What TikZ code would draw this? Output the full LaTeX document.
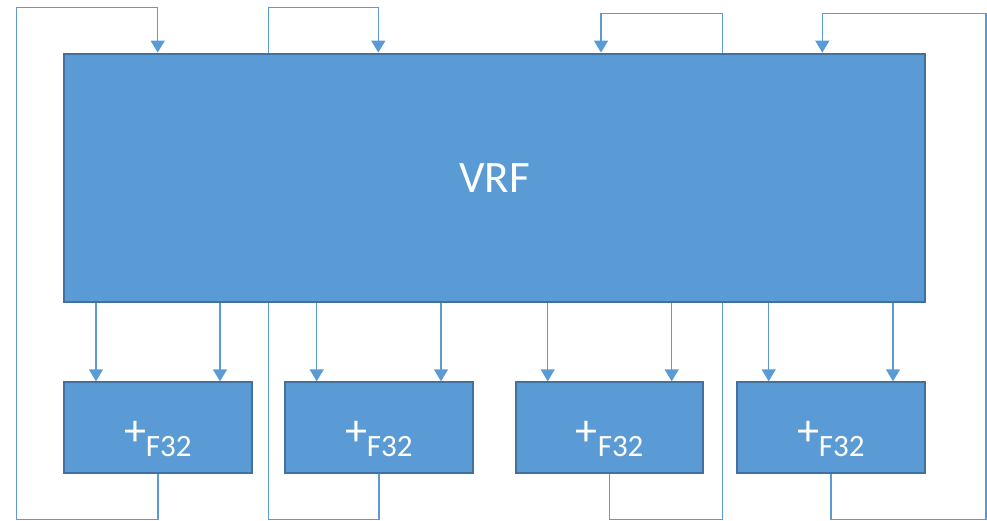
\documentclass[tikz,border=0pt]{standalone}
\usepackage{fontspec}
\setmainfont{Carlito}
\usetikzlibrary{arrows.meta}
\pgfdeclarelayer{background}
\pgfsetlayers{background,main}
\definecolor{boxfill}{HTML}{5B9BD5}
\definecolor{boxedge}{HTML}{41719C}
\definecolor{wire}{HTML}{5B9BD5}
\tikzset{
  blockbox/.style={draw=boxedge, line width=2pt, fill=boxfill, inner sep=0pt, text=white},
  wireline/.style={draw=wire, line width=1.5pt},
  wirearrow/.style={wireline, -{Triangle[width=14pt,length=12pt]}}
}
\newcommand{\addlabel}{\raisebox{-18pt}[0pt][0pt]{{\fontsize{44}{44}\selectfont +}\raisebox{-10.5pt}{\fontsize{31}{31}\selectfont F32}}}
\begin{document}
\begin{tikzpicture}[x=1pt,y=1pt]
\useasboundingbox (0,0) rectangle (987,-521);
% main blocks
\node[blockbox, minimum width=861pt, minimum height=248pt] (vrf) at (494.5,-177.6)
  {\fontsize{45}{45}\selectfont VRF};
\node[blockbox, minimum width=187.5pt, minimum height=90.4pt] (b1) at (157.85,-427.5) {\addlabel};
\node[blockbox, minimum width=187.5pt, minimum height=90.4pt] (b2) at (378.85,-427.5) {\addlabel};
\node[blockbox, minimum width=187.5pt, minimum height=90.4pt] (b3) at (609.65,-427.5) {\addlabel};
\node[blockbox, minimum width=187.5pt, minimum height=90.4pt] (b4) at (830.85,-427.5) {\addlabel};
% x positions of the vertical connectors
\coordinate (a1) at (96,0);
\coordinate (a2) at (220,0);
\coordinate (a3) at (316.7,0);
\coordinate (a4) at (441,0);
\coordinate (a5) at (547.7,0);
\coordinate (a6) at (671.7,0);
\coordinate (a7) at (768.7,0);
\coordinate (a8) at (893,0);
% feedback corner points
\coordinate (l1a) at (157.85,-519.5);
\coordinate (l1b) at (16.7,-519.5);
\coordinate (l1c) at (16.7,-7.5);
\coordinate (l1d) at (157.7,-7.5);
\coordinate (l2a) at (378.85,-519.5);
\coordinate (l2b) at (268.7,-519.5);
\coordinate (l2c) at (268.7,-7.5);
\coordinate (l2d) at (378.3,-7.5);
\coordinate (l3a) at (609.65,-519.5);
\coordinate (l3b) at (722.5,-519.5);
\coordinate (l3c) at (722.5,-13.3);
\coordinate (l3d) at (601,-13.3);
\coordinate (l4a) at (830.85,-519.5);
\coordinate (l4b) at (986.2,-519.5);
\coordinate (l4c) at (986.2,-13.3);
\coordinate (l4d) at (822.3,-13.3);
\begin{pgfonlayer}{background}
% VRF to adders
\foreach \a/\b in {a1/b1,a2/b1,a3/b2,a4/b2,a5/b3,a6/b3,a7/b4,a8/b4}
  \draw[wirearrow] (vrf.south -| \a) -- (\b.north -| \a);
% feedback loops
\draw[wirearrow] (b1.south) -- (l1a) -- (l1b) -- (l1c) -- (l1d) -- (vrf.north -| l1d);
\draw[wirearrow] (b2.south) -- (l2a) -- (l2b) -- (l2c) -- (l2d) -- (vrf.north -| l2d);
\draw[wirearrow] (b3.south) -- (l3a) -- (l3b) -- (l3c) -- (l3d) -- (vrf.north -| l3d);
\draw[wirearrow] (b4.south) -- (l4a) -- (l4b) -- (l4c) -- (l4d) -- (vrf.north -| l4d);
\end{pgfonlayer}
\end{tikzpicture}
\end{document}
